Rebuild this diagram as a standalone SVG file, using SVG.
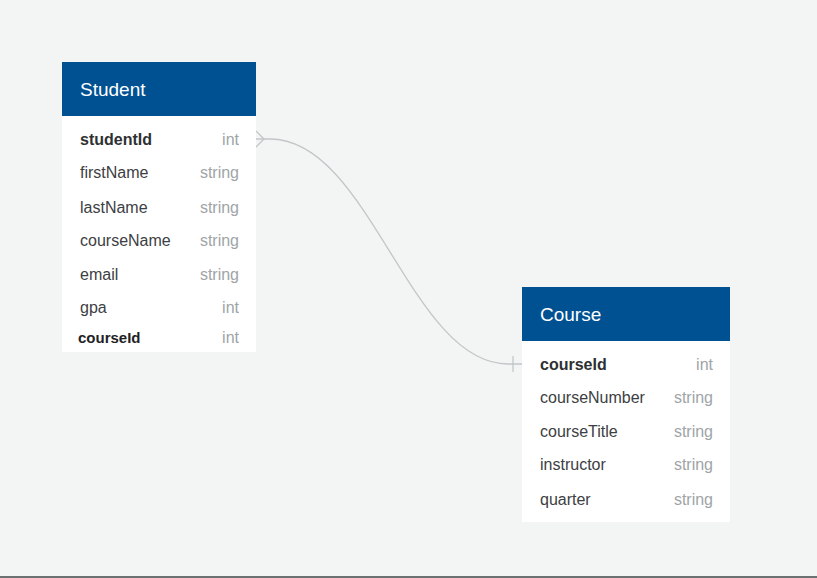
<svg xmlns="http://www.w3.org/2000/svg" width="817" height="578" viewBox="0 0 817 578">
<style>
.hdr{fill:#005192}
.body{fill:#ffffff}
.title{font-family:"Liberation Sans",Arial,sans-serif;font-size:19px;fill:#ffffff}
.nm{font-family:"Liberation Sans",Arial,sans-serif;font-size:16px;fill:#3d4043}
.pk{font-family:"Liberation Sans",Arial,sans-serif;font-size:16px;font-weight:bold;fill:#2e3133}
.ty{font-family:"Liberation Sans",Arial,sans-serif;font-size:16px;fill:#a0a4a7;text-anchor:end}
.conn{fill:none;stroke:#c3c6c8;stroke-width:1.3}
</style>
<rect x="0" y="0" width="817" height="578" fill="#f3f4f4"/>
<rect x="0" y="576" width="817" height="2" fill="#6b7171"/>
<g id="connectors">
<path class="conn" d="M256,139 L270,139 C370,139 410,364 508,364 L522,364"/>
<path class="conn" d="M256,131 L264,139 L256,147"/>
<path class="conn" d="M513,356 L513,372"/>
</g>
<g id="student">
<rect class="body" x="62" y="62" width="194" height="290"/>
<rect class="hdr" x="62" y="62" width="194" height="54"/>
<text class="title" x="80" y="96">Student</text>
<text class="pk" x="80" y="145">studentId</text><text class="ty" x="239" y="145">int</text>
<text class="nm" x="80" y="178">firstName</text><text class="ty" x="239" y="178">string</text>
<text class="nm" x="80" y="213">lastName</text><text class="ty" x="239" y="213">string</text>
<text class="nm" x="80" y="246">courseName</text><text class="ty" x="239" y="246">string</text>
<text class="nm" x="80" y="280">email</text><text class="ty" x="239" y="280">string</text>
<text class="nm" x="80" y="313">gpa</text><text class="ty" x="239" y="313">int</text>
<text class="pk" x="78" y="343" style="font-size:15px;fill:#1f2224">courseId</text><text class="ty" x="239" y="343">int</text>
</g>
<g id="course">
<rect class="body" x="522" y="287" width="208" height="235"/>
<rect class="hdr" x="522" y="287" width="208" height="54"/>
<text class="title" x="540" y="321">Course</text>
<text class="pk" x="540" y="370">courseId</text><text class="ty" x="713" y="370">int</text>
<text class="nm" x="540" y="403">courseNumber</text><text class="ty" x="713" y="403">string</text>
<text class="nm" x="540" y="437">courseTitle</text><text class="ty" x="713" y="437">string</text>
<text class="nm" x="540" y="470">instructor</text><text class="ty" x="713" y="470">string</text>
<text class="nm" x="540" y="505">quarter</text><text class="ty" x="713" y="505">string</text>
</g>
</svg>
